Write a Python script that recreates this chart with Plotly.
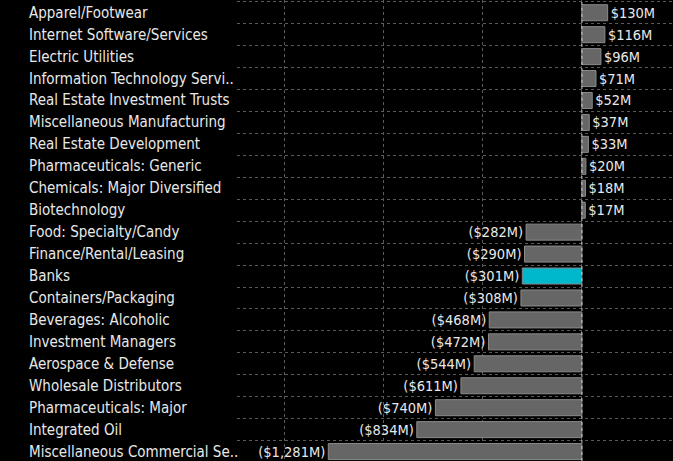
import plotly.graph_objects as go

categories = [
    "Apparel/Footwear", "Internet Software/Services", "Electric Utilities",
    "Information Technology Servi..", "Real Estate Investment Trusts",
    "Miscellaneous Manufacturing", "Real Estate Development",
    "Pharmaceuticals: Generic", "Chemicals: Major Diversified", "Biotechnology",
    "Food: Specialty/Candy", "Finance/Rental/Leasing", "Banks",
    "Containers/Packaging", "Beverages: Alcoholic", "Investment Managers",
    "Aerospace & Defense", "Wholesale Distributors", "Pharmaceuticals: Major",
    "Integrated Oil", "Miscellaneous Commercial Se..",
]
values = [130, 116, 96, 71, 52, 37, 33, 20, 18, 17,
          -282, -290, -301, -308, -468, -472, -544, -611, -740, -834, -1281]
highlight = "Banks"

def fmt(v):
    return f"${v:,}M" if v >= 0 else f"(${-v:,}M)"

W, H = 673, 461
FONT = "DejaVu Sans Condensed, DejaVu Sans, sans-serif"

colors = ["#00b8cc" if c == highlight else "#666666" for c in categories]

fig = go.Figure(go.Bar(
    x=values, y=categories, orientation="h",
    marker=dict(color=colors, line=dict(color="#8a8a8a", width=1)),
    text=[fmt(v) for v in values], textposition="outside",
    textfont=dict(color="#e8e8e8", size=14.5, family=FONT),
    cliponaxis=False, hoverinfo="skip",
))

for c in categories:
    fig.add_annotation(x=27 / W, xref="paper", xanchor="left",
                       y=c, yref="y", yanchor="middle", text=c, showarrow=False,
                       font=dict(color="#e8e8e8", size=15, family=FONT))

fig.add_shape(type="line", x0=0, x1=0, xref="x", y0=0, y1=1, yref="paper",
              line=dict(color="#cccccc", width=1, dash="dot"))

fig.update_layout(
    width=W, height=H, margin=dict(l=0, r=0, t=0, b=0),
    paper_bgcolor="black", plot_bgcolor="black", showlegend=False,
    bargap=0.27,
    xaxis=dict(domain=[237 / W, 1], range=[-1742, 460], dtick=500, tick0=0,
               showticklabels=False, showgrid=True, gridcolor="#5a5a5a",
               griddash="dot", zeroline=False, ticks=""),
    yaxis=dict(type="category", autorange=False, range=[20.43, -0.58],
               tickson="boundaries", showticklabels=False, showgrid=True,
               gridcolor="#5a5a5a", griddash="dot", ticks="", zeroline=False),
)

fig.write_html(
    "out.html",
    config={"displayModeBar": False},
    post_script="document.body.style.margin='0';document.body.style.background='black';",
)
